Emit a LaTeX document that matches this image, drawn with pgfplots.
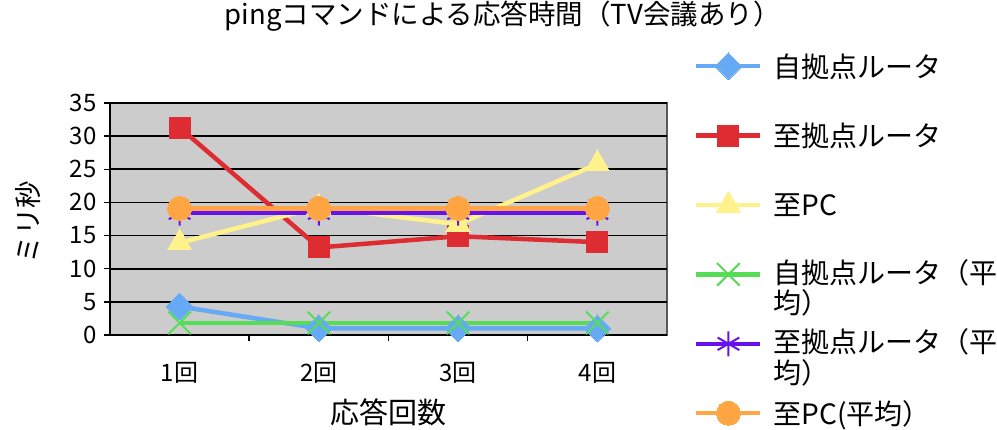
\documentclass[border=0pt]{standalone}
\usepackage{pgfplots}
\pgfplotsset{compat=1.18}
\usepackage{fontspec}
\setmainfont{Noto Sans CJK JP}
\definecolor{cBlue}{HTML}{66AAF5}
\definecolor{cRed}{HTML}{DD2D32}
\definecolor{cYellow}{HTML}{FFF28A}
\definecolor{cGreen}{HTML}{55DD55}
\definecolor{cPurple}{HTML}{6611EE}
\definecolor{cOrange}{HTML}{FFA544}
\newcommand{\twoline}[2]{\strut\smash{\begin{tabular}[t]{@{}l@{}}#1\\[-2pt]#2\end{tabular}}}
\begin{document}
\begin{tikzpicture}
\useasboundingbox (0,0) rectangle (997pt,430pt);
\begin{axis}[
  at={(110pt,95pt)}, anchor=south west,
  scale only axis, width=557pt, height=232pt,
  xmin=0.5, xmax=4.5, ymin=0, ymax=35,
  ytick={0,5,...,35},
  xtick={1.5,2.5,3.5}, xticklabels={},
  extra x ticks={1,2,3,4},
  extra x tick labels={1回,2回,3回,4回},
  extra x tick style={major tick length=0pt, grid=none},
  /pgf/number format/assume math mode=true,
  axis background/.style={fill=gray!40, draw=gray!70!black, line width=1.5pt},
  axis x line*=bottom, axis y line*=left,
  axis line style={black, line width=2.5pt, -},
  ymajorgrids, major grid style={black, line width=1.8pt},
  tick style={black, line width=1.5pt},
  tick align=outside, major tick length=6pt,
  tick label style={font=\fontsize{24}{27}\selectfont},
  yticklabel style={xshift=-4pt},
  xticklabel style={yshift=-24pt},
  xlabel={応答回数}, ylabel={ミリ秒},
  xlabel style={font=\fontsize{29}{32}\selectfont, at={(axis description cs:0.5,-0.332)}, anchor=center},
  ylabel style={font=\fontsize{27.5}{30}\selectfont, at={(axis description cs:-0.148,0.487)}, anchor=center, rotate=0},
  title={pingコマンドによる応答時間（TV会議あり）},
  title style={font=\fontsize{27.5}{30}\selectfont, at={(axis description cs:0.705,1.349)}, anchor=center},
  legend style={at={(axis description cs:1.0485,1.309)}, anchor=north west, draw=none, fill=none,
    font=\fontsize{28}{28}\selectfont, row sep=0pt, inner sep=0pt,
    nodes={inner sep=0pt, minimum height=69.4pt}},
  legend cell align=left,
  legend image code/.code={\draw[mark repeat=2,mark phase=2] plot coordinates {(0pt,0pt)(32pt,0pt)(64pt,0pt)}; \path (75pt,0pt);},
  every axis plot/.append style={line width=4.5pt},
  clip=false,
]
\addplot[cBlue, mark=square*, mark size=9.5pt, mark options={rotate=45, line width=0pt}] coordinates {(1,4.3) (2,1) (3,1) (4,1)};
\addlegendentry{自拠点ルータ}
\addplot[cRed, mark=square*, mark size=10.5pt, mark options={line width=0pt}] coordinates {(1,31.3) (2,13.2) (3,14.9) (4,14.0)};
\addlegendentry{至拠点ルータ}
\addplot[cYellow, mark=triangle*, mark size=14pt, mark options={line width=0pt}] coordinates {(1,13.9) (2,19.3) (3,16.7) (4,25.8)};
\addlegendentry{至PC}
\addplot[cGreen, mark=x, mark size=16pt, mark options={line width=2pt}] coordinates {(1,1.83) (2,1.83) (3,1.83) (4,1.83)};
\addlegendentry{\twoline{自拠点ルータ（平}{均）}}
\addplot[cPurple, mark=asterisk, mark size=12.5pt, mark options={line width=2pt}] coordinates {(1,18.4) (2,18.4) (3,18.4) (4,18.4)};
\addlegendentry{\twoline{至拠点ルータ（平}{均）}}
\addplot[cOrange, mark=*, mark size=12pt, mark options={line width=0pt}] coordinates {(1,19.1) (2,19.1) (3,19.1) (4,19.1)};
\addlegendentry{至PC(平均）}
\end{axis}
\end{tikzpicture}
\end{document}
